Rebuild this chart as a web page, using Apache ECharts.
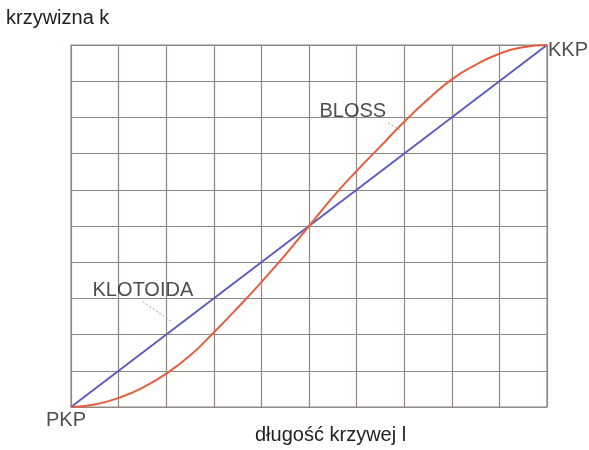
<!DOCTYPE html>
<html>
<head>
<meta charset="utf-8">
<script src="https://cdn.jsdelivr.net/npm/echarts@6/dist/echarts.min.js"></script>
<style>html,body{margin:0;padding:0;background:#fff;}#c{width:589px;height:450px;}</style>
</head>
<body>
<div id="c"></div>
<script>
// data (length along curve 0..10, curvature 0..10)
var xValues = [0, 0.5, 1, 1.5, 2, 2.5, 3, 3.5, 4, 4.5, 5, 5.5, 6, 6.5, 7, 7.5, 8, 8.5, 9, 9.5, 10];
var blossValues = [0, 0.07, 0.25, 0.53, 0.92, 1.42, 2.06, 2.74, 3.45, 4.2, 5.0, 5.8, 6.52, 7.2, 7.88, 8.5, 9.05, 9.45, 9.76, 9.94, 10];
var klotoidaValues = [[0, 0], [10, 10]];
var yAxisTitle = 'krzywizna k';
var xAxisTitle = 'długość krzywej l';
var endLabels = [{name: 'PKP', value: [0, 0]}, {name: 'KKP', value: [10, 10]}];
var curveLabels = [{name: 'BLOSS', value: [5.92, 8.15]}, {name: 'KLOTOIDA', value: [1.51, 3.23]}];
var blossLeader = [[6.66, 7.85], [6.91, 7.66]];
var klotoidaLeader = [[1.51, 2.91], [2.11, 2.36]];

var blossData = xValues.map(function (x, i) { return [x, blossValues[i]]; });
var font = 'Liberation Sans, Arial, sans-serif';
var gridColor = '#8f8884';
var textColor = '#222';

var chart = echarts.init(document.getElementById('c'));
chart.setOption({
  animation: false,
  title: [
    {text: yAxisTitle, left: 6, top: 8, padding: 0,
     textStyle: {fontFamily: font, fontSize: 20, fontWeight: 'normal', color: textColor}},
    {text: xAxisTitle, left: 255, top: 425, padding: 0,
     textStyle: {fontFamily: font, fontSize: 20, fontWeight: 'normal', color: textColor}}
  ],
  grid: {left: 71, top: 45, right: 42, bottom: 43, show: true, borderColor: gridColor, borderWidth: 1.2, backgroundColor: 'transparent'},
  xAxis: {type: 'value', min: 0, max: 10, interval: 1,
    axisLine: {show: false}, axisTick: {show: false}, axisLabel: {show: false},
    splitLine: {show: true, lineStyle: {color: gridColor, width: 1.2}}},
  yAxis: {type: 'value', min: 0, max: 10, interval: 1,
    axisLine: {show: false}, axisTick: {show: false}, axisLabel: {show: false},
    splitLine: {show: true, lineStyle: {color: gridColor, width: 1.2}}},
  series: [
    {type: 'line', name: 'KLOTOIDA', data: klotoidaValues, showSymbol: false,
     lineStyle: {color: '#5f5cbc', width: 2}, z: 3},
    {type: 'line', name: 'BLOSS', data: blossData, smooth: true, showSymbol: false,
     lineStyle: {color: '#e2603f', width: 2}, z: 4},
    {type: 'line', data: blossLeader, showSymbol: false, silent: true,
     lineStyle: {color: '#9a9a9a', width: 1, type: [2, 2]}},
    {type: 'line', data: klotoidaLeader, showSymbol: false, silent: true,
     lineStyle: {color: '#9a9a9a', width: 1, type: [2, 2]}},
    {type: 'scatter', data: curveLabels, symbolSize: 0, clip: false, silent: true,
     label: {show: true, position: 'inside', formatter: '{b}', fontFamily: font, fontSize: 20, color: textColor}},
    {type: 'scatter', data: [endLabels[0]], symbolSize: 0, clip: false, silent: true,
     label: {show: true, position: 'bottom', distance: 3, offset: [-5, 0], formatter: '{b}', fontFamily: font, fontSize: 20, color: textColor}},
    {type: 'scatter', data: [endLabels[1]], symbolSize: 0, clip: false, silent: true,
     label: {show: true, position: 'right', distance: 1, offset: [0, 5], formatter: '{b}', fontFamily: font, fontSize: 20, color: textColor}}
  ]
});
</script>
</body>
</html>
